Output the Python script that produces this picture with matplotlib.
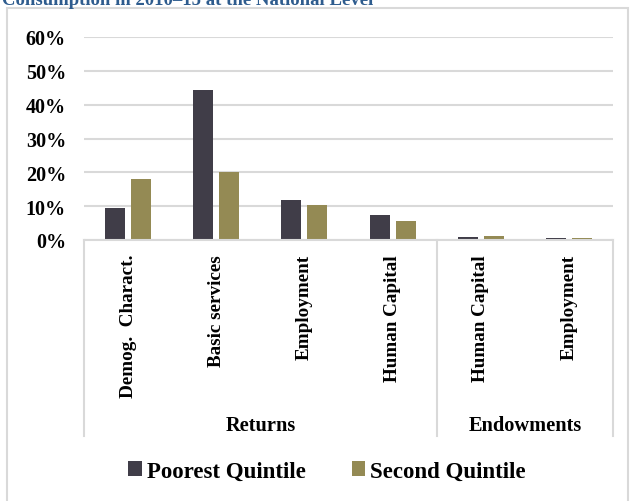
import matplotlib
matplotlib.use("Agg")
import matplotlib.pyplot as plt
from matplotlib.patches import Rectangle, Patch
from matplotlib.ticker import PercentFormatter

# Decomposition shares by component
categories = ["Demog.  Charact.", "Basic services", "Employment", "Human Capital",
              "Human Capital", "Employment"]
groups = ["Returns", "Endowments"]
group_sizes = [4, 2]
poorest = [0.095, 0.442, 0.119, 0.074, 0.009, 0.005]
second = [0.180, 0.200, 0.104, 0.057, 0.012, 0.006]
series_names = ["Poorest Quintile", "Second Quintile"]
colors = ["#403D48", "#948A54"]
yticks = [0, 0.1, 0.2, 0.3, 0.4, 0.5, 0.6]

W, H = 632, 502
FONT = "Liberation Serif"
GRID = "#D9D9D9"

fig = plt.figure(figsize=(W / 100, H / 100), dpi=100)

# outer chart frame and clipped title line
fig.patches.append(Rectangle((7 / W, -0.01), 621 / W, 1 - 9 / H + 0.01,
                             transform=fig.transFigure, fill=False,
                             edgecolor=GRID, linewidth=1.5))
fig.text(2 / W, 1 - 5 / H, "Consumption in 2010\u201315 at the National Level",
         color="#2E5C8E", fontsize=13.5, fontweight="bold", family=FONT,
         ha="left", va="baseline")

left, right, top, bottom = 84, 613, 38, 241
ax = fig.add_axes([left / W, 1 - bottom / H, (right - left) / W, (bottom - top) / H])

x = list(range(len(categories)))
bw = 0.227
off = 0.147
ax.bar([i - off for i in x], poorest, width=bw, color=colors[0], zorder=3)
ax.bar([i + off for i in x], second, width=bw, color=colors[1], zorder=3)

ax.set_xlim(-0.5, len(categories) - 0.5)
ax.set_ylim(0, 0.6)
ax.set_yticks(yticks)
ax.yaxis.set_major_formatter(PercentFormatter(1.0, decimals=0))
ax.grid(axis="y", color=GRID, linewidth=1.5, zorder=0)
ax.tick_params(axis="y", length=0, pad=13)
ax.set_xticks([])
for lab in ax.get_yticklabels():
    lab.set_fontfamily(FONT)
    lab.set_fontweight("bold")
    lab.set_fontsize(14.5)
for s in ["top", "right", "left"]:
    ax.spines[s].set_visible(False)
ax.spines["bottom"].set_color(GRID)
ax.spines["bottom"].set_linewidth(1.5)
ax.spines["bottom"].set_zorder(4)

# multi-level category axis
tr = ax.get_xaxis_transform()
box_bottom = (bottom - 437) / (bottom - top)
edges = [-0.5]
for n in group_sizes:
    edges.append(edges[-1] + n)
for e in edges:
    ax.plot([e, e], [0, box_bottom], transform=tr, color=GRID, linewidth=1.5,
            clip_on=False)

lab_y = (bottom - 255) / (bottom - top)
for i, c in enumerate(categories):
    ax.text(i, lab_y, c, transform=tr, rotation=90, ha="center", va="top",
            fontsize=13.8, fontweight="bold", family=FONT)

grp_y = (bottom - 426) / (bottom - top)
for k, g in enumerate(groups):
    ax.text((edges[k] + edges[k + 1]) / 2, grp_y, g, transform=tr, ha="center",
            va="center", fontsize=14.7, fontweight="bold", family=FONT)

handles = [Patch(facecolor=colors[0]), Patch(facecolor=colors[1])]
fig.legend(handles, series_names, loc="center", bbox_to_anchor=(327 / W, 1 - 472 / H),
           ncol=2, frameon=False, handlelength=0.6, handleheight=0.6,
           handletextpad=0.2, columnspacing=2.0,
           prop={"family": FONT, "weight": "bold", "size": 16.5})

fig.savefig("out.png", dpi=100)
